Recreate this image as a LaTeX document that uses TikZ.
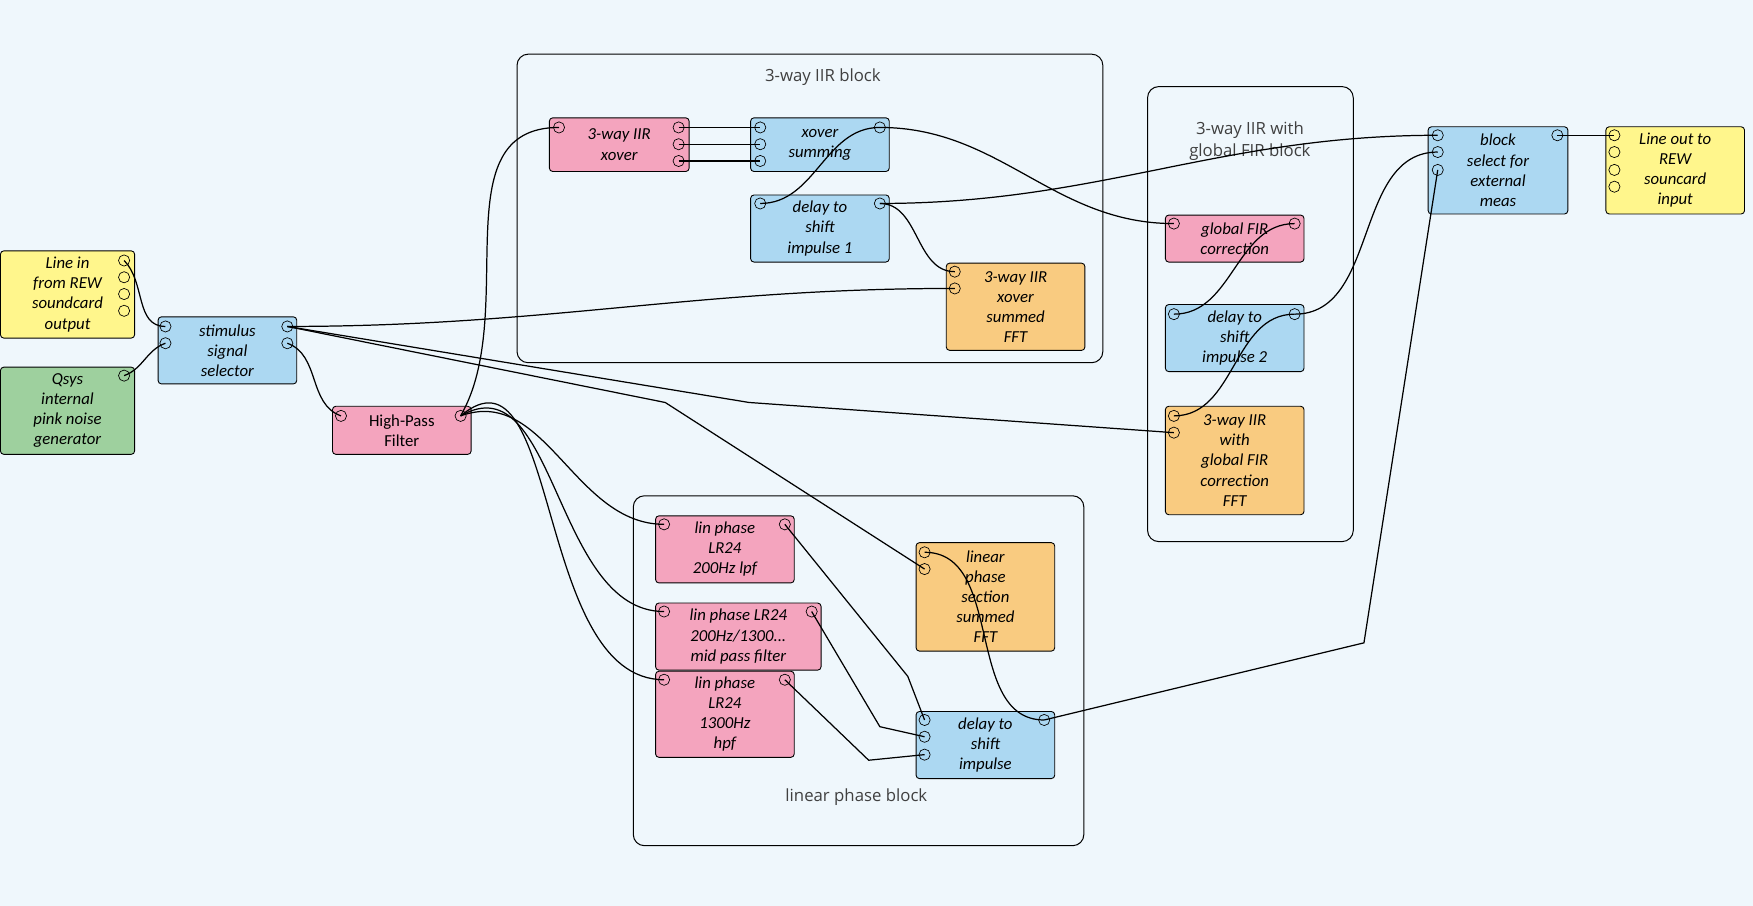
\documentclass[tikz,border=0pt]{standalone}
\usepackage{fontspec}
\setmainfont{Carlito}
\newfontfamily\lbl{Open Sans}
\definecolor{bgc}{RGB}{239,247,252}
\definecolor{cyel}{RGB}{255,246,140}
\definecolor{cgrn}{RGB}{158,208,158}
\definecolor{cblu}{RGB}{172,216,242}
\definecolor{cpnk}{RGB}{244,164,190}
\definecolor{corg}{RGB}{249,203,128}
\begin{document}
\begin{tikzpicture}[x=1pt,y=-1pt,
 box/.style={draw=black,rounded corners=3,line width=0.8pt,anchor=north west,align=center,font=\itshape\fontsize{15}{18}\selectfont,inner sep=2pt},
 cont/.style={draw=black,rounded corners=10,line width=0.9pt},
 clbl/.style={font=\lbl\fontsize{15}{20}\selectfont,text=black!75,align=center},
 portc/.style={draw=black,line width=0.6pt},
 wire/.style={draw=black,line width=1.1pt},
 yel/.style={fill=cyel}, grn/.style={fill=cgrn}, blu/.style={fill=cblu},
 pnk/.style={fill=cpnk}, org/.style={fill=corg}]
\newcommand\mkport[2]{\coordinate (#1) at #2; \draw[portc] (#1) circle (5);}
\fill[bgc] (0,0) rectangle (1568,810);
\useasboundingbox (0,0) rectangle (1568,810);
% containers
\node[cont,minimum width=524,minimum height=276,anchor=north west] (c1) at (462,48) {};
\node[clbl] (c1l) at (736,69) {3-way IIR block};
\node[cont,minimum width=184,minimum height=407,anchor=north west] (c2) at (1026,77) {};
\node[clbl] (c2l) at (1118,126) {3-way IIR with\\global FIR block};
\node[cont,minimum width=403,minimum height=313,anchor=north west] (c3) at (566,443) {};
\node[clbl] (c3l) at (766,713) {linear phase block};
% nodes
\node[box,yel,minimum width=120,minimum height=78] (lin) at (0,224) {Line in\\from REW\\soundcard\\output};
\node[box,grn,minimum width=120,minimum height=78] (qsys) at (0,328) {Qsys\\internal\\pink noise\\generator};
\node[box,blu,minimum width=124,minimum height=60] (sel) at (141,283) {stimulus\\signal\\selector};
\node[box,pnk,minimum width=124,minimum height=43,font=\fontsize{15}{18}\selectfont] (hpf) at (297,363) {High-Pass\\Filter};
\node[box,pnk,minimum width=125,minimum height=48] (xo) at (491,105) {3-way IIR\\xover};
\node[box,blu,minimum width=124,minimum height=48] (xs) at (671,105) {xover\\summing};
\node[box,blu,minimum width=124,minimum height=60] (d1) at (671,174) {delay to\\shift\\impulse 1};
\node[box,org,minimum width=124,minimum height=78] (f1) at (846,235) {3-way IIR\\xover\\summed\\FFT};
\node[box,pnk,minimum width=124,minimum height=42] (gf) at (1042,192) {global FIR\\correction};
\node[box,blu,minimum width=124,minimum height=60] (d2) at (1042,272) {delay to\\shift\\impulse 2};
\node[box,org,minimum width=124,minimum height=97] (f2) at (1042,363) {3-way IIR\\with\\global FIR\\correction\\FFT};
\node[box,blu,minimum width=125,minimum height=78] (bs) at (1277,113) {block\\select for\\external\\meas};
\node[box,yel,minimum width=124,minimum height=78] (lo) at (1436,113) {Line out to\\REW\\souncard\\input};
\node[box,pnk,minimum width=124,minimum height=60] (lp) at (586,461) {lin phase\\LR24\\200Hz lpf};
\node[box,pnk,minimum width=148,minimum height=60] (mp) at (586,539) {lin phase LR24\\200Hz/1300...\\mid pass filter};
\node[box,pnk,minimum width=124,minimum height=77] (hp) at (586,600) {lin phase\\LR24\\1300Hz\\hpf};
\node[box,org,minimum width=124,minimum height=97] (f3) at (819,485) {linear\\phase\\section\\summed\\FFT};
\node[box,blu,minimum width=124,minimum height=60] (d3) at (819,636) {delay to\\shift\\impulse};
% ports
\mkport{lin1}{(111,233)}\mkport{lin2}{(111,248)}\mkport{lin3}{(111,263)}\mkport{lin4}{(111,278)}
\mkport{q1}{(111,336)}
\mkport{si1}{(148,292)}\mkport{si2}{(148,307)}\mkport{so1}{(257,292)}\mkport{so2}{(257,307)}
\mkport{hi}{(305,372)}\mkport{ho}{(412,372)}
\mkport{xi}{(500,114)}\mkport{xo1}{(607,114)}\mkport{xo2}{(607,129)}\mkport{xo3}{(607,144)}
\mkport{xsi1}{(680,114)}\mkport{xsi2}{(680,129)}\mkport{xsi3}{(680,144)}\mkport{xso}{(787,114)}
\mkport{d1i}{(680,182)}\mkport{d1o}{(787,182)}
\mkport{f1i1}{(854,243)}\mkport{f1i2}{(854,258)}
\mkport{gfi}{(1050,200)}\mkport{gfo}{(1158,200)}
\mkport{d2i}{(1050,281)}\mkport{d2o}{(1158,281)}
\mkport{f2i1}{(1050,372)}\mkport{f2i2}{(1050,387)}
\mkport{bsi1}{(1286,121)}\mkport{bsi2}{(1286,136)}\mkport{bsi3}{(1286,152)}\mkport{bso}{(1393,121)}
\mkport{loi1}{(1444,121)}\mkport{loi2}{(1444,136)}\mkport{loi3}{(1444,152)}\mkport{loi4}{(1444,167)}
\mkport{lpi}{(594,469)}\mkport{lpo}{(702,469)}
\mkport{mpi}{(594,547)}\mkport{mpo}{(726,547)}
\mkport{hpi}{(594,608)}\mkport{hpo}{(702,608)}
\mkport{f3i1}{(827,494)}\mkport{f3i2}{(827,509)}
\mkport{d3i1}{(827,644)}\mkport{d3i2}{(827,659)}\mkport{d3i3}{(827,675)}\mkport{d3o}{(934,644)}
% bend coordinates
\coordinate (k1) at (595,360); \coordinate (k2) at (670,360);
\coordinate (k3) at (812,605); \coordinate (k4) at (787,650); \coordinate (k5) at (777,680);
\coordinate (k6) at (1220,575);
% wires
\draw[wire] (lin1) to[out=-45,in=180] (si1);
\draw[wire] (q1) to[out=20,in=200] (si2);
\draw[wire] (so2) to[out=-20,in=160] (hi);
\draw[wire] (so1) to[out=0,in=180] (f1i2);
\draw[wire] (so1) -- (k1) -- (f3i2);
\draw[wire] (so1) -- (k2) -- (f2i2);
\draw[wire] (ho) to[out=60,in=180] (xi);
\draw[wire] (ho) to[out=20,in=180] (lpi);
\draw[wire] (ho) to[out=30,in=180] (mpi);
\draw[wire] (ho) to[out=40,in=180] (hpi);
\draw[wire] (xo1) -- (xsi1); \draw[wire] (xo2) -- (xsi2); \draw[wire] (xo3) -- (xsi3);
\draw[wire] (xso) to[out=180,in=0] (d1i);
\draw[wire] (xso) to[out=0,in=180] (gfi);
\draw[wire] (d1o) to[out=0,in=180] (f1i1);
\draw[wire] (d1o) to[out=0,in=180] (bsi1);
\draw[wire] (gfo) to[out=180,in=0] (d2i);
\draw[wire] (d2o) to[out=0,in=180] (bsi2);
\draw[wire] (f2i1) to[out=0,in=180] (d2o);
\draw[wire] (lpo) -- (k3) -- (d3i1);
\draw[wire] (mpo) -- (k4) -- (d3i2);
\draw[wire] (hpo) -- (k5) -- (d3i3);
\draw[wire] (f3i1) to[out=0,in=180] (d3o);
\draw[wire] (d3o) -- (k6) -- (bsi3);
\draw[wire] (bso) -- (loi1);
\end{tikzpicture}
\end{document}
